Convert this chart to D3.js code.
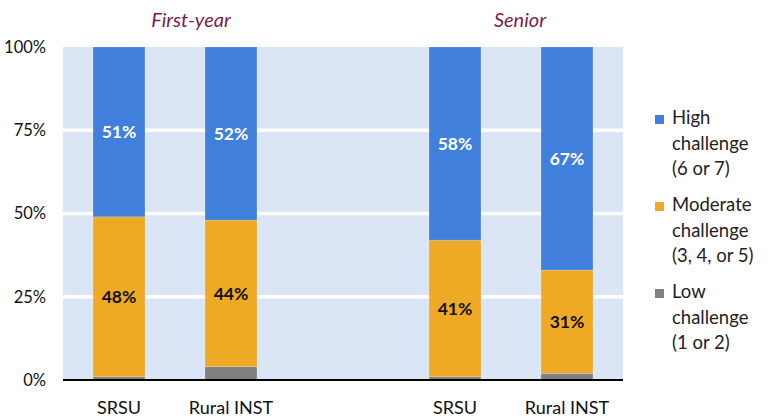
<!DOCTYPE html>
<html>
<head>
<meta charset="utf-8">
<script src="https://cdn.jsdelivr.net/npm/d3@7"></script>
<style>
  body { margin: 0; background: #fff; }
  svg { display: block; font-family: Lato, "Open Sans", sans-serif; }
</style>
</head>
<body>
<svg id="chart" width="770" height="419"></svg>
<script>
// slots along the x axis, "gap" is the empty slot between the two groups
const slots = ["fy-srsu", "fy-rural", "gap", "sr-srsu", "sr-rural"];
const barLabels = ["SRSU", "Rural INST", "", "SRSU", "Rural INST"];
const groupNames = ["First-year", "Senior"];
const groupSlots = [["fy-srsu", "fy-rural"], ["sr-srsu", "sr-rural"]];
const barKeys = ["fy-srsu", "fy-rural", "sr-srsu", "sr-rural"];
const lowVals = [1, 4, 1, 2];
const moderateVals = [48, 44, 41, 31];
const highVals = [51, 52, 58, 67];
const yTicks = [0, 25, 50, 75, 100];

const seriesKeys = ["low", "moderate", "high"];
const colors = { low: "#808080", moderate: "#eeaa24", high: "#4080dc" };
const legendItems = [
  { key: "high", lines: ["High", "challenge", "(6 or 7)"] },
  { key: "moderate", lines: ["Moderate", "challenge", "(3, 4, or 5)"] },
  { key: "low", lines: ["Low", "challenge", "(1 or 2)"] }
];
const titleShift = [16, 9]; // titles sit a bit right of the group centre

const rows = barKeys.map((k, i) => ({
  slot: k, low: lowVals[i], moderate: moderateVals[i], high: highVals[i]
}));

const svg = d3.select("#chart");
const margin = { top: 47, left: 63 };
const width = 560, height = 333;
const g = svg.append("g").attr("transform", `translate(${margin.left},${margin.top})`);

const x = d3.scaleBand().domain(slots).range([0, width])
  .paddingInner(0.536).paddingOuter(0.268);
const y = d3.scaleLinear().domain([0, 100]).range([height, 0]);

// background + gridlines
g.append("rect").attr("width", width).attr("height", height).attr("fill", "#dae5f6");
g.selectAll(".grid").data(yTicks.filter(t => t > 0 && t < 100)).join("line")
  .attr("x1", 0).attr("x2", width)
  .attr("y1", d => y(d)).attr("y2", d => y(d))
  .attr("stroke", "#fff").attr("stroke-width", 3.5);

const stacked = d3.stack().keys(seriesKeys)(rows);

g.selectAll(".layer").data(stacked).join("g")
  .attr("fill", d => colors[d.key])
  .selectAll("rect").data(d => d).join("rect")
  .attr("x", d => x(d.data.slot))
  .attr("width", x.bandwidth())
  .attr("y", d => y(d[1]))
  .attr("height", d => y(d[0]) - y(d[1]))
  .attr("stroke", "rgba(255,255,255,0.25)").attr("stroke-width", 0.8);

// value labels for moderate and high
stacked.filter(s => s.key !== "low").forEach(s => {
  g.selectAll(".lbl-" + s.key).data(s).join("text")
    .attr("x", d => x(d.data.slot) + x.bandwidth() / 2)
    .attr("y", d => y((d[0] + d[1]) / 2))
    .attr("dy", "0.35em")
    .attr("text-anchor", "middle")
    .attr("font-size", 17.5).attr("font-weight", "bold")
    .attr("fill", s.key === "high" ? "#fff" : "#111")
    .text(d => d.data[s.key] + "%");
});

// baseline
g.append("line").attr("x1", 0).attr("x2", width)
  .attr("y1", y(0)).attr("y2", y(0))
  .attr("stroke", "#000").attr("stroke-width", 2);

// y axis labels
g.selectAll(".ytick").data(yTicks).join("text")
  .attr("x", -17).attr("y", d => y(d)).attr("dy", "0.35em")
  .attr("text-anchor", "end").attr("font-size", 16.5).attr("fill", "#111")
  .text(d => d + "%");

// x axis labels
g.selectAll(".xtick").data(slots.filter((s, i) => barLabels[i])).join("text")
  .attr("x", d => x(d) + x.bandwidth() / 2)
  .attr("y", height + 34)
  .attr("text-anchor", "middle").attr("font-size", 18).attr("fill", "#111")
  .text(d => barLabels[slots.indexOf(d)]);

// group titles
g.selectAll(".gtitle").data(groupNames).join("text")
  .attr("x", (d, i) => d3.mean(groupSlots[i], s => x(s) + x.bandwidth() / 2) + titleShift[i])
  .attr("y", -20)
  .attr("text-anchor", "middle").attr("font-size", 20).attr("font-style", "italic")
  .attr("fill", "#7a1d52")
  .text(d => d);

// legend
const leg = svg.append("g").attr("transform", "translate(655,110)");
const item = leg.selectAll("g").data(legendItems).join("g")
  .attr("transform", (d, i) => `translate(0,${i * 87})`);
item.append("rect").attr("x", 0).attr("y", 5).attr("width", 9).attr("height", 9)
  .attr("fill", d => colors[d.key]);
item.each(function(d) {
  d3.select(this).selectAll("text").data(d.lines).join("text")
    .attr("x", 17).attr("y", (l, j) => 8 + j * 25.5).attr("dy", "0.35em")
    .attr("font-size", 18.5).attr("fill", "#222")
    .text(l => l);
});
</script>
</body>
</html>
